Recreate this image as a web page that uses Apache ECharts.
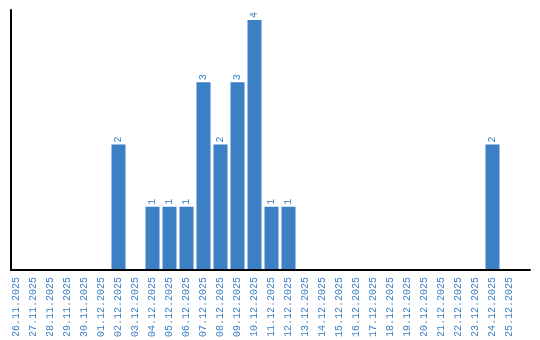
<!DOCTYPE html>
<html><head><meta charset="utf-8">
<script src="https://cdn.jsdelivr.net/npm/echarts@6/dist/echarts.min.js"></script>
<style>html,body{margin:0;padding:0;background:#fff}#c{width:540px;height:340px}</style>
</head><body><div id="c"></div>
<script>
const categories = ["26.11.2025","27.11.2025","28.11.2025","29.11.2025","30.11.2025","01.12.2025","02.12.2025","03.12.2025","04.12.2025","05.12.2025","06.12.2025","07.12.2025","08.12.2025","09.12.2025","10.12.2025","11.12.2025","12.12.2025","13.12.2025","14.12.2025","15.12.2025","16.12.2025","17.12.2025","18.12.2025","19.12.2025","20.12.2025","21.12.2025","22.12.2025","23.12.2025","24.12.2025","25.12.2025"];
const values = [0,0,0,0,0,0,2,0,1,1,1,3,2,3,4,1,1,0,0,0,0,0,0,0,0,0,0,0,2,0];
const yMax = 4.16;
const blue = '#3b7fc4';
const chart = echarts.init(document.getElementById('c'));
chart.setOption({
  animation:false,
  grid:[
    {left:11,right:10,top:10,bottom:70,containLabel:false},
    {left:8,width:510,top:10,bottom:70,containLabel:false}
  ],
  xAxis:[
    {gridIndex:0,type:'value',min:0,max:1,
      axisLine:{show:true,lineStyle:{color:'#000',width:2}},
      axisTick:{show:false},axisLabel:{show:false},splitLine:{show:false}},
    {gridIndex:1,type:'category',data:categories,
      axisLine:{show:false},
      axisTick:{show:false},
      axisLabel:{rotate:90,interval:0,color:blue,fontFamily:'Liberation Mono',fontSize:10,margin:8}}
  ],
  yAxis:[
    {gridIndex:0,type:'value',min:0,max:yMax,
      axisLine:{show:true,lineStyle:{color:'#000',width:2}},
      axisTick:{show:false},axisLabel:{show:false},splitLine:{show:false}},
    {gridIndex:1,type:'value',min:0,max:yMax,
      axisLine:{show:false},axisTick:{show:false},axisLabel:{show:false},splitLine:{show:false}}
  ],
  series:[{type:'bar',xAxisIndex:1,yAxisIndex:1,data:values.map(v=>v===0?null:v),barWidth:14,
    itemStyle:{color:blue},
    label:{show:true,position:'top',rotate:90,align:'left',verticalAlign:'middle',distance:2,color:blue,fontFamily:'Liberation Mono',fontSize:10}}]
});
</script></body></html>
